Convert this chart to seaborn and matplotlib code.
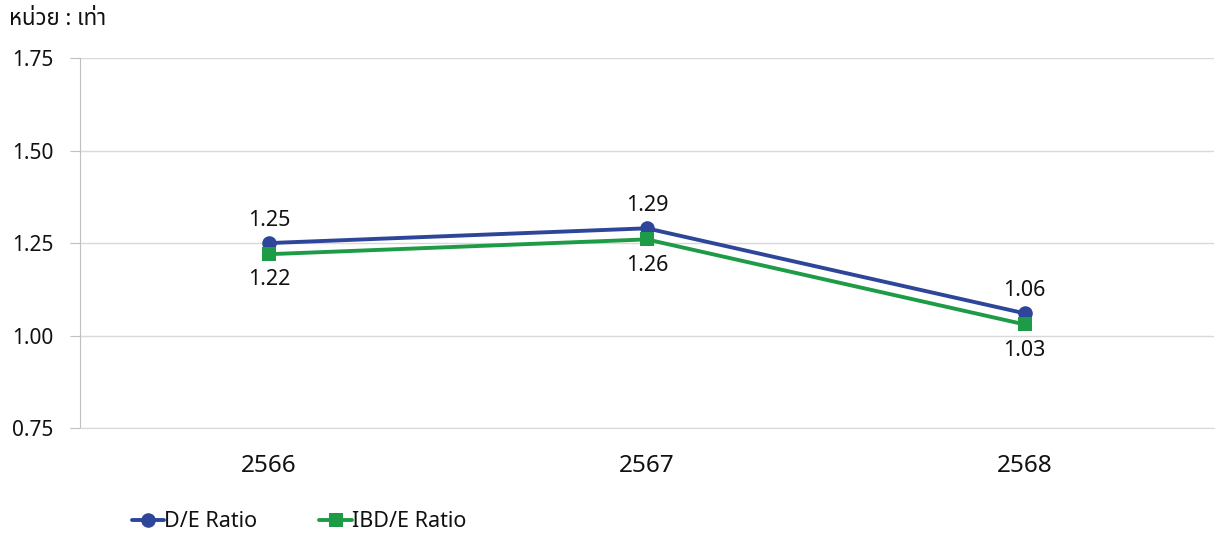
import pandas as pd
import matplotlib.pyplot as plt
import seaborn as sns

# Data
years = ['2566', '2567', '2568']
de_ratio = [1.25, 1.29, 1.06]
ibd_ratio = [1.22, 1.26, 1.03]
series_names = ['D/E Ratio', 'IBD/E Ratio']
y_ticks = [0.75, 1.00, 1.25, 1.50, 1.75]
unit_label = 'หน่วย : เท่า'

df = pd.DataFrame({
    'year': years * 2,
    'value': de_ratio + ibd_ratio,
    'series': [series_names[0]] * 3 + [series_names[1]] * 3,
})

sns.set_style('white')
plt.rcParams['font.family'] = ['Noto Sans', 'Noto Sans Thai', 'Loma', 'Garuda',
                               'Tlwg Typo', 'DejaVu Sans']

palette = {series_names[0]: '#2E4699', series_names[1]: '#1E9B47'}
markers = {series_names[0]: 'o', series_names[1]: 's'}
txt = '#111111'

fig = plt.figure(figsize=(12.19, 5.39), dpi=100)
ax = fig.add_axes([0.0656, 0.206, 0.930, 0.686])

sns.lineplot(data=df, x='year', y='value', hue='series', style='series',
             markers=markers, dashes=False, palette=palette, linewidth=2.8,
             markersize=10.5, markeredgewidth=0, ax=ax, legend=False, sort=False)

# value labels: D/E above, IBD/E below
for i, v in enumerate(de_ratio):
    ax.annotate(f'{v:.2f}', (i, v), xytext=(0, 9), textcoords='offset points',
                ha='center', va='bottom', fontsize=15.5, color=txt)
for i, v in enumerate(ibd_ratio):
    ax.annotate(f'{v:.2f}', (i, v), xytext=(0, -11), textcoords='offset points',
                ha='center', va='top', fontsize=15.5, color=txt)

ax.set_xlim(-0.5, 2.5)
ax.set_ylim(0.75, 1.75)
ax.set_yticks(y_ticks)
ax.set_yticklabels([f'{t:.2f}' for t in y_ticks])
ax.yaxis.grid(True, color='#D9D9D9', linewidth=1)
ax.set_axisbelow(True)
ax.set_xlabel('')
ax.set_ylabel('')

for s in ['top', 'right']:
    ax.spines[s].set_visible(False)
ax.spines['left'].set_color('#BFBFBF')
ax.spines['bottom'].set_color('#D9D9D9')
ax.tick_params(axis='y', left=True, length=7, color='#BFBFBF', labelsize=15,
               pad=12, labelcolor=txt)
ax.tick_params(axis='x', bottom=False, labelsize=17.5, pad=15, labelcolor=txt)

fig.text(0.007, 0.963, unit_label, fontsize=16, color=txt,
         ha='left', va='center')

handles = [plt.Line2D([], [], color=palette[n], marker=markers[n], linewidth=2.8,
                      markersize=10.5, markeredgewidth=0) for n in series_names]
fig.legend(handles, series_names, loc='center left', bbox_to_anchor=(0.092, 0.032),
           ncol=2, frameon=False, fontsize=15.5, handlelength=1.5,
           handletextpad=0.0, columnspacing=2.9, labelcolor=txt)

fig.savefig('out.png', dpi=100)
